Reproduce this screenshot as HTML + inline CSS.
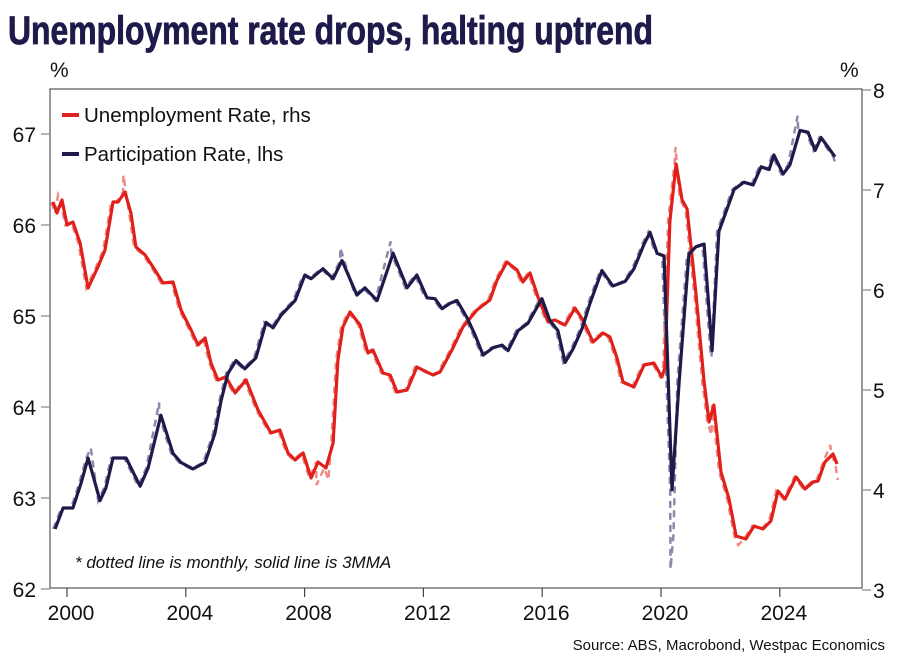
<!DOCTYPE html>
<html><head><meta charset="utf-8"><style>
html,body{margin:0;padding:0;background:#fff;}
svg{display:block;font-family:"Liberation Sans",sans-serif;}
</style></head><body>
<svg id="chart" width="897" height="658" viewBox="0 0 897 658">
<text x="8" y="44" font-family="'Liberation Sans Narrow','Liberation Sans',sans-serif" font-weight="bold" font-size="40" fill="#1e1b4b" stroke="#1e1b4b" stroke-width="0.8" textLength="645" lengthAdjust="spacingAndGlyphs">Unemployment rate drops, halting uptrend</text>
<text x="50" y="77" font-size="21" fill="#111">%</text>
<text x="840" y="77" font-size="21" fill="#111">%</text>
<rect x="50" y="89" width="812" height="499" fill="none" stroke="#555" stroke-width="1.2"/>
<g id="axes"></g>
<g id="series"></g>
<g>
<line x1="62" y1="115" x2="79" y2="115" stroke="#e0201b" stroke-width="4"/>
<text x="84" y="122" font-size="20.5" fill="#111">Unemployment Rate, rhs</text>
<line x1="62" y1="154" x2="79" y2="154" stroke="#1e1b4b" stroke-width="4"/>
<text x="84" y="161" font-size="20.5" fill="#111">Participation Rate, lhs</text>
</g>
<text x="75" y="568" font-size="17" font-style="italic" fill="#111">* dotted line is monthly, solid line is 3MMA</text>
<text x="885" y="650" font-size="15" fill="#111" text-anchor="end">Source: ABS, Macrobond, Westpac Economics</text>
</svg>
<script>
const xTicks = [2000,2004,2008,2012,2016,2020,2024];
const leftTicks = [62,63,64,65,66,67];
const rightTicks = [3,4,5,6,7,8];

const uDates = [1999.53,1999.66,1999.83,2000.00,2000.20,2000.44,2000.71,2001.04,2001.28,2001.55,2001.72,2001.95,2002.15,2002.32,2002.63,2002.96,2003.23,2003.57,2003.84,2004.18,2004.41,2004.65,2004.85,2005.08,2005.35,2005.66,2006.03,2006.43,2006.87,2007.17,2007.44,2007.68,2007.95,2008.22,2008.45,2008.72,2008.96,2009.12,
2009.29,2009.53,2009.87,2010.13,2010.30,2010.64,2010.88,2011.11,2011.45,2011.78,2012.32,2012.56,2012.96,2013.33,2013.80,2014.24,2014.48,2014.81,2015.15,2015.35,2015.59,2015.86,2016.20,2016.43,2016.77,2017.10,2017.37,2017.71,2018.05,2018.28,
2018.52,2018.72,2019.09,2019.43,2019.76,2020.03,2020.13,2020.30,2020.51,2020.71,2020.88,2021.18,2021.45,2021.62,2021.78,2022.02,2022.29,2022.53,2022.86,2023.13,2023.43,2023.70,2023.94,2024.18,2024.55,2024.85,2025.12,2025.29,2025.52,2025.79,2025.93];
const uValues = [6.88,6.77,6.90,6.65,6.68,6.47,6.02,6.23,6.40,6.88,6.88,6.98,6.77,6.43,6.35,6.20,6.07,6.08,5.80,5.60,5.45,5.52,5.27,5.10,5.13,4.97,5.10,4.80,4.57,4.60,4.37,4.30,4.37,4.12,4.28,4.22,4.47,5.30,
5.63,5.78,5.65,5.37,5.40,5.17,5.15,4.98,5.00,5.23,5.15,5.18,5.40,5.63,5.80,5.90,6.10,6.28,6.20,6.08,6.17,5.93,5.68,5.70,5.65,5.82,5.70,5.48,5.57,5.53,
5.32,5.08,5.03,5.25,5.27,5.13,5.22,6.69,7.26,6.90,6.81,5.96,5.08,4.68,4.85,4.18,3.91,3.54,3.51,3.64,3.61,3.69,3.99,3.91,4.13,4.01,4.08,4.09,4.28,4.36,4.26];

const pDates = [1999.60,1999.87,2000.20,2000.47,2000.71,2001.11,2001.31,2001.55,2001.99,2002.46,2002.73,2003.16,2003.57,2003.84,2004.24,2004.65,2004.98,2005.19,2005.42,2005.69,2005.99,2006.36,2006.70,2006.94,2007.21,2007.68,2008.01,2008.22,2008.62,2008.96,
2009.26,2009.76,2010.03,2010.44,2010.98,2011.45,2011.78,2012.12,2012.39,2012.63,2012.90,2013.13,2013.47,2013.74,2014.01,2014.34,2014.65,2014.85,2015.19,2015.52,2015.99,2016.26,2016.53,2016.77,2017.04,2017.34,2017.61,2018.01,
2018.38,2018.79,2019.09,2019.43,2019.63,2019.87,2020.10,2020.37,2020.61,2020.94,2021.18,2021.45,2021.72,2021.95,2022.46,2022.79,2023.10,2023.37,2023.64,2023.80,2024.11,2024.34,2024.68,2024.95,2025.19,2025.39,2025.86];
const pValues = [62.66,62.89,62.89,63.16,63.44,62.97,63.11,63.44,63.44,63.13,63.33,63.91,63.49,63.39,63.32,63.39,63.71,64.07,64.37,64.51,64.42,64.54,64.93,64.87,65.01,65.17,65.45,65.41,65.52,65.41,
65.61,65.23,65.31,65.17,65.69,65.31,65.45,65.20,65.19,65.08,65.14,65.17,64.98,64.79,64.57,64.65,64.68,64.62,64.84,64.92,65.19,64.95,64.84,64.49,64.64,64.86,65.14,65.50,
65.33,65.38,65.52,65.79,65.92,65.69,65.66,63.09,64.27,65.68,65.76,65.79,64.62,65.93,66.39,66.47,66.44,66.64,66.61,66.77,66.56,66.66,67.04,67.02,66.82,66.96,66.75];

// monthly readings that deviate from the 3MMA
const uMonthlyDates = [1999.70,2001.90,2008.40,2008.80,2020.49,2020.60,2021.70,2022.60,2025.70,2025.95];
const uMonthlyValues = [6.95,7.15,4.05,4.10,7.43,7.00,4.55,3.45,4.45,4.10];
const pMonthlyDates = [2000.80,2003.10,2009.20,2010.90,2020.32,2020.42,2021.70,2024.60,2025.90];
const pMonthlyValues = [63.55,64.05,65.75,65.82,62.22,62.60,64.55,67.20,66.65];

const svg = document.getElementById('chart');
const NS = 'http://www.w3.org/2000/svg';
const X0 = 67, PXY = 29.7;
const MONTHLY_LEAD = 0.06;
function xScale(y){ return X0 + (y-2000)*PXY; }
function yLeft(v){ return 589 - (v-62)*91; }
function yRight(v){ return 590 - (v-3)*100; }

const axes = document.getElementById('axes');
function mk(tag, attrs, parent){ const e=document.createElementNS(NS,tag); for(const k in attrs) e.setAttribute(k,attrs[k]); parent.appendChild(e); return e; }

xTicks.forEach(t=>{
  const x = xScale(t);
  const l = mk('line',{x1:x,y1:588,x2:x,y2:597,stroke:'#444','stroke-width':1.2},axes);
  
  
  const tx = mk('text',{x:x+4,y:620,'font-size':21,fill:'#111','text-anchor':'middle'},axes);
  tx.textContent = t;
  
  
});
leftTicks.forEach(t=>{
  const y = yLeft(t);
  const l = mk('line',{x1:41,y1:y,x2:50,y2:y,stroke:'#888','stroke-width':1.2},axes);
  
  
  const tx = mk('text',{x:36,y:y+8,'font-size':21,fill:'#111','text-anchor':'end'},axes);
  tx.textContent = t;
  
  
});
rightTicks.forEach(t=>{
  const y = yRight(t);
  const l = mk('line',{x1:862,y1:y,x2:871,y2:y,stroke:'#888','stroke-width':1.2},axes);
  
  
  const tx = mk('text',{x:873,y:y+8,'font-size':21,fill:'#111'},axes);
  tx.textContent = t;
  
  
});

function merge(d1,v1,d2,v2){
  const a=d1.map((d,i)=>[d-MONTHLY_LEAD,v1[i]]).concat(d2.map((d,i)=>[d,v2[i]]));
  a.sort((p,q)=>p[0]-q[0]); return a;
}
function pathFrom(pts, ys){ return pts.map((p,i)=>(i?'L':'M')+xScale(p[0]).toFixed(1)+' '+ys(p[1]).toFixed(1)).join(' '); }

const g = document.getElementById('series');
const pDash = mk('path',{d:pathFrom(merge(pDates,pValues,pMonthlyDates,pMonthlyValues),yLeft),fill:'none',stroke:'#8c8aaa','stroke-width':2.5,'stroke-dasharray':'7 5'},g);


const uDash = mk('path',{d:pathFrom(merge(uDates,uValues,uMonthlyDates,uMonthlyValues),yRight),fill:'none',stroke:'#f08a87','stroke-width':2.5,'stroke-dasharray':'7 5'},g);


const uLine = mk('path',{d:pathFrom(uDates.map((d,i)=>[d,uValues[i]]),yRight),fill:'none',stroke:'#e0201b','stroke-width':3.2,'stroke-linejoin':'round'},g);


const pLine = mk('path',{d:pathFrom(pDates.map((d,i)=>[d,pValues[i]]),yLeft),fill:'none',stroke:'#1e1b4b','stroke-width':3.2,'stroke-linejoin':'round'},g);


</script>
</body></html>
